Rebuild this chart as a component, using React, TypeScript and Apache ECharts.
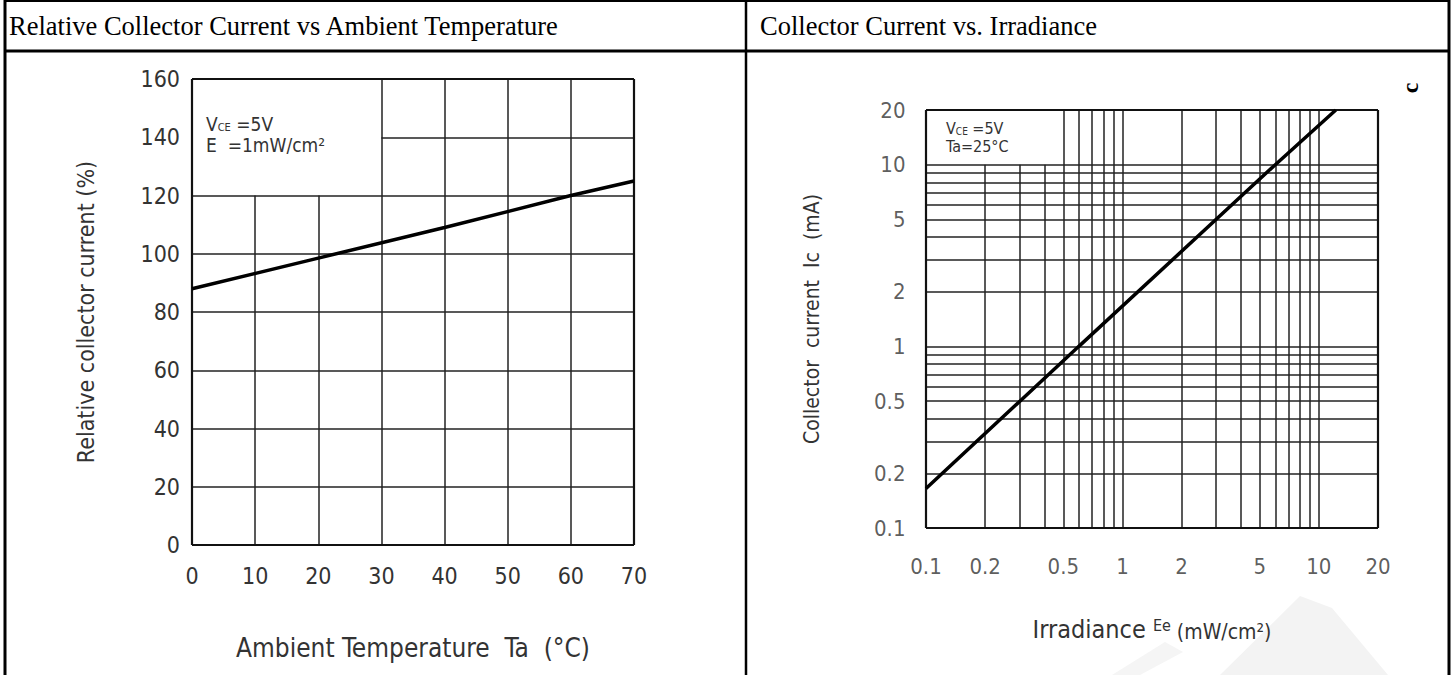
import React, { useEffect, useRef } from "react";
import * as echarts from "echarts";

// ---------- data ----------
const tempTicks = [0, 10, 20, 30, 40, 50, 60, 70];
const relTicks = [0, 20, 40, 60, 80, 100, 120, 140, 160];
const tempValues = [0, 20, 40, 60, 70];
const relCurrentValues = [88, 98.5, 109, 120, 125];

const irrValues = [0.1, 0.6, 6, 12.2];
const icValues = [0.165, 1, 10, 20];
const irrTickValues = [0.1, 0.2, 0.5, 1, 2, 5, 10, 20];
const irrTickLabels = ["0.1", "0.2", "0.5", "1", "2", "5", "10", "20"];
const icTickValues = [0.1, 0.2, 0.5, 1, 2, 5, 10, 20];
const icTickLabels = ["0.1", "0.2", "0.5", "1", "2", "5", "10", "20"];
const irrGrid = [0.2, 0.3, 0.4, 0.5, 0.6, 0.7, 0.8, 0.9, 1, 2, 3, 4, 5, 6, 7, 8, 9, 10];
const icGrid = [0.2, 0.3, 0.4, 0.5, 0.6, 0.7, 0.8, 0.9, 1, 2, 3, 4, 5, 6, 7, 8, 9, 10];

// legend-box extents (data units)
const leftBox = { xMax: 30, yMin: 120 };
const rightBox = { xMax: 0.5, yMin: 10 };

const FONT = "'DejaVu Sans Condensed', 'Liberation Sans Narrow', 'DejaVu Sans', sans-serif";
const SERIF = "'Liberation Serif', 'DejaVu Serif', serif";
const TXT = "#333";
const GRIDC = "#222";

export default function App() {
  const ref = useRef<HTMLDivElement>(null);

  useEffect(() => {
    document.body.style.margin = "0";
    if (!ref.current) return;
    const chart = echarts.init(ref.current, undefined, { renderer: "svg" });

    const lx0 = tempTicks[0], lx1 = tempTicks[tempTicks.length - 1];
    const ly0 = relTicks[0], ly1 = relTicks[relTicks.length - 1];
    const rx0 = irrTickValues[0], rx1 = irrTickValues[irrTickValues.length - 1];
    const ry0 = icTickValues[0], ry1 = icTickValues[icTickValues.length - 1];

    const border = { lineStyle: { width: 2.2, color: "#111" } };

    const leftGridLines: any[] = [];
    tempTicks.slice(1, -1).forEach((t) => {
      leftGridLines.push([{ coord: [t, ly0] }, { coord: [t, t < leftBox.xMax ? leftBox.yMin : ly1] }]);
    });
    relTicks.slice(1, -1).forEach((r) => {
      leftGridLines.push([{ coord: [r > leftBox.yMin ? leftBox.xMax : lx0, r] }, { coord: [lx1, r] }]);
    });
    leftGridLines.push([{ coord: [lx0, ly0], ...border }, { coord: [lx1, ly0] }]);
    leftGridLines.push([{ coord: [lx0, ly1], ...border }, { coord: [lx1, ly1] }]);
    leftGridLines.push([{ coord: [lx0, ly0], ...border }, { coord: [lx0, ly1] }]);
    leftGridLines.push([{ coord: [lx1, ly0], ...border }, { coord: [lx1, ly1] }]);

    const rightGridLines: any[] = [];
    irrGrid.forEach((v) => {
      rightGridLines.push([{ coord: [v, ry0] }, { coord: [v, v < rightBox.xMax ? rightBox.yMin : ry1] }]);
    });
    icGrid.forEach((v) => {
      rightGridLines.push([{ coord: [v > rightBox.yMin ? rightBox.xMax : rx0, v] }, { coord: [rx1, v] }]);
    });
    rightGridLines.push([{ coord: [rx0, ry0], ...border }, { coord: [rx1, ry0] }]);
    rightGridLines.push([{ coord: [rx0, ry1], ...border }, { coord: [rx1, ry1] }]);
    rightGridLines.push([{ coord: [rx0, ry0], ...border }, { coord: [rx0, ry1] }]);
    rightGridLines.push([{ coord: [rx1, ry0], ...border }, { coord: [rx1, ry1] }]);

    const markLineBase = {
      silent: true,
      symbol: ["none", "none"],
      label: { show: false },
      emphasis: { disabled: true },
      lineStyle: { color: GRIDC, width: 1.5, type: "solid" as const },
    };

    const legendText = (x: number, y: number, main: string, sub: string, rest: string, size: number, subSize: number) => ({
      type: "text",
      x,
      y,
      style: {
        text: `{a|${main}}{s|${sub}}{a|${rest}}`,
        fill: TXT,
        rich: {
          a: { fontSize: size, fontFamily: FONT, fill: TXT, lineHeight: size, verticalAlign: "bottom" },
          s: { fontSize: subSize, fontFamily: FONT, fill: TXT, lineHeight: size, verticalAlign: "bottom" },
        },
      },
    });

    const option: any = {
      animation: false,
      grid: [
        { left: 192, top: 79, width: 442, height: 466 },
        { left: 926, top: 110, width: 452, height: 418 },
      ],
      xAxis: [
        {
          gridIndex: 0,
          type: "value",
          min: lx0,
          max: lx1,
          interval: 10,
          axisLine: { show: false },
          axisTick: { show: false },
          splitLine: { show: false },
          axisLabel: { fontSize: 23, color: TXT, margin: 19, fontFamily: FONT },
          name: "Ambient Temperature  Ta  (°C)",
          nameLocation: "middle",
          nameGap: 90,
          nameTextStyle: { fontSize: 26, color: TXT, fontFamily: FONT },
        },
        {
          gridIndex: 1,
          type: "log",
          logBase: 10,
          min: rx0,
          max: rx1,
          axisLine: { show: false },
          axisTick: { show: false },
          splitLine: { show: false },
          minorSplitLine: { show: false },
          axisLabel: { show: false },
          name: "{big|Irradiance }{small|Ee}{mid| (mW/cm²)}",
          nameLocation: "middle",
          nameGap: 86,
          nameTextStyle: {
            color: TXT,
            fontFamily: FONT,
            rich: {
              big: { fontSize: 25, color: TXT, fontFamily: FONT, verticalAlign: "bottom", lineHeight: 28 },
              small: { fontSize: 16, color: TXT, fontFamily: FONT, verticalAlign: "bottom", lineHeight: 20, padding: [0, 0, 9, 0] },
              mid: { fontSize: 21, color: TXT, fontFamily: FONT, verticalAlign: "bottom", lineHeight: 28 },
            },
          },
        },
      ],
      yAxis: [
        {
          gridIndex: 0,
          type: "value",
          min: ly0,
          max: ly1,
          interval: 20,
          axisLine: { show: false },
          axisTick: { show: false },
          splitLine: { show: false },
          axisLabel: { fontSize: 23, color: TXT, margin: 12, fontFamily: FONT },
          name: "Relative collector current (%)",
          nameLocation: "middle",
          nameGap: 95,
          nameTextStyle: { fontSize: 23, color: TXT, fontFamily: FONT },
        },
        {
          gridIndex: 1,
          type: "log",
          logBase: 10,
          min: ry0,
          max: ry1,
          axisLine: { show: false },
          axisTick: { show: false },
          splitLine: { show: false },
          minorSplitLine: { show: false },
          axisLabel: { show: false },
          name: "Collector  current  Ic  (mA)",
          nameLocation: "middle",
          nameGap: 104,
          nameTextStyle: { fontSize: 21, color: TXT, fontFamily: FONT },
        },
      ],
      series: [
        {
          type: "line",
          xAxisIndex: 0,
          yAxisIndex: 0,
          data: tempValues.map((t, i) => [t, relCurrentValues[i]]),
          showSymbol: false,
          symbol: "none",
          lineStyle: { color: "#000", width: 3.5 },
          z: 5,
          markLine: { ...markLineBase, data: leftGridLines },
        },
        {
          type: "line",
          xAxisIndex: 1,
          yAxisIndex: 1,
          data: irrValues.map((x, i) => [x, icValues[i]]),
          showSymbol: false,
          symbol: "none",
          lineStyle: { color: "#000", width: 3.5 },
          z: 5,
          markLine: { ...markLineBase, data: rightGridLines },
        },
        {
          type: "scatter",
          xAxisIndex: 1,
          yAxisIndex: 1,
          silent: true,
          clip: false,
          symbolSize: 1,
          itemStyle: { color: "rgba(0,0,0,0)" },
          data: irrTickValues.map((v) => [v, ry0]),
          label: {
            show: true,
            position: "bottom",
            distance: 27,
            fontSize: 22,
            color: TXT,
            fontFamily: FONT,
            formatter: (p: any) => irrTickLabels[p.dataIndex],
          },
        },
        {
          type: "scatter",
          xAxisIndex: 1,
          yAxisIndex: 1,
          silent: true,
          clip: false,
          symbolSize: 1,
          itemStyle: { color: "rgba(0,0,0,0)" },
          data: icTickValues.map((v) => [rx0, v]),
          label: {
            show: true,
            position: "left",
            distance: 20,
            fontSize: 22,
            color: TXT,
            fontFamily: FONT,
            formatter: (p: any) => icTickLabels[p.dataIndex],
          },
        },
      ],
      graphic: [
        // table borders
        { type: "line", shape: { x1: 5, y1: 1, x2: 1449, y2: 1 }, style: { stroke: "#000", lineWidth: 2 } },
        { type: "line", shape: { x1: 5, y1: 51, x2: 1449, y2: 51 }, style: { stroke: "#000", lineWidth: 3 } },
        { type: "line", shape: { x1: 5, y1: 0, x2: 5, y2: 675 }, style: { stroke: "#000", lineWidth: 3 } },
        { type: "line", shape: { x1: 746, y1: 0, x2: 746, y2: 675 }, style: { stroke: "#000", lineWidth: 2.5 } },
        { type: "line", shape: { x1: 1449, y1: 0, x2: 1449, y2: 675 }, style: { stroke: "#000", lineWidth: 3 } },
        // header titles
        {
          type: "text",
          x: 9,
          y: 26,
          style: { text: "Relative Collector Current vs Ambient Temperature", fontSize: 26.5, fontFamily: SERIF, fill: "#000", verticalAlign: "middle" },
        },
        {
          type: "text",
          x: 760,
          y: 26,
          style: { text: "Collector Current vs. Irradiance", fontSize: 26.5, fontFamily: SERIF, fill: "#000", verticalAlign: "middle" },
        },
        // rotated c
        {
          type: "text",
          x: 1410,
          y: 88,
          rotation: Math.PI / 2,
          style: { text: "c", fontSize: 24, fontWeight: "bold", fontFamily: SERIF, fill: "#000", align: "center", verticalAlign: "middle" },
        },
        // left legend
        legendText(206, 114, "V", "CE", " =5V", 19, 11),
        { type: "text", x: 206, y: 135, style: { text: "E  =1mW/cm²", fontSize: 19, fontFamily: FONT, fill: TXT } },
        // right legend
        legendText(946, 120, "V", "CE", " =5V", 16, 10),
        { type: "text", x: 946, y: 138, style: { text: "Ta=25°C", fontSize: 16, fontFamily: FONT, fill: TXT } },
        // faint watermark
        {
          type: "polygon",
          z: -10,
          shape: { points: [[1220, 675], [1300, 596], [1332, 608], [1388, 675]] },
          style: { fill: "#f3f3f3" },
        },
        {
          type: "polygon",
          z: -10,
          shape: { points: [[1112, 675], [1165, 642], [1183, 652], [1140, 675]] },
          style: { fill: "#f5f5f5" },
        },
      ],
    };

    chart.setOption(option);
    return () => chart.dispose();
  }, []);

  return <div ref={ref} style={{ width: 1453, height: 675 }} />;
}
